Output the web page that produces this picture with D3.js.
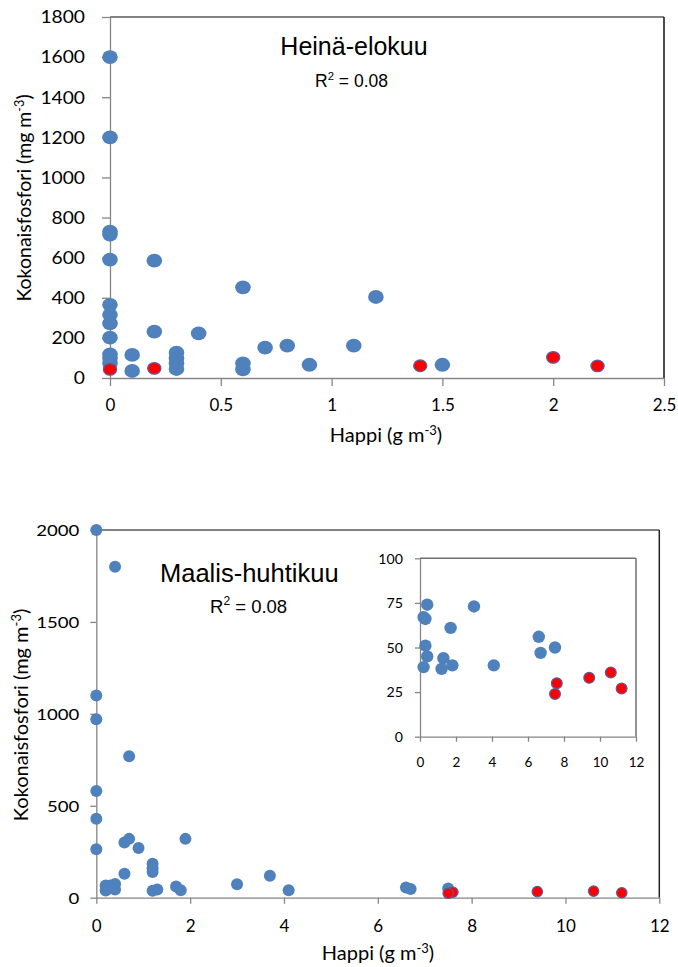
<!DOCTYPE html>
<html>
<head>
<meta charset="utf-8">
<script src="https://cdn.jsdelivr.net/npm/d3@7/dist/d3.min.js"></script>
<style>
  html, body { margin: 0; padding: 0; background: #fff; }
  svg { display: block; }
</style>
</head>
<body>
<svg id="chart" width="678" height="967"></svg>
<script>
// ---------- DATA ----------
// Heinä-elokuu (top chart)
const heinaHappi = [0,0,0,0,0,0,0,0,0,0,0,0, 0.1,0.1, 0.2,0.2, 0.3,0.3,0.3,0.3, 0.4, 0.6,0.6,0.6, 0.7,0.8,0.9,1.1,1.2,1.5];
const heinaP     = [1600,1200,730,715,590,365,315,272,201,118,98,73, 115,35, 585,231, 126,98,73,45, 223, 452,73,43, 151,161,66,161,404,66];
const heinaRedHappi = [0, 0.2, 1.4, 2.0, 2.2];
const heinaRedP     = [43, 48, 61, 103, 60];
const heinaYTicks = [0,200,400,600,800,1000,1200,1400,1600,1800];
const heinaXTicks = [0,0.5,1,1.5,2,2.5];

// Maalis-huhtikuu (bottom chart): high values only in main chart
const maalisHighHappi = [0,0.4,0,0,0.7,0,0,0,0.6,0.7,0.9,1.9,0.6,1.2,1.2,1.2,3.7];
const maalisHighP     = [2000,1800,1100,970,770,580,430,263,300,320,270,320,130,185,160,140,120];
// low values (shown in main chart and in inset)
const maalisLowHappi = [0.4,0.2,0.3,3.0,1.7,0.3,0.4,0.2,1.3,1.2,1.8,4.1,6.6,6.7,7.5];
const maalisLowP     = [74,67,66,73,61,51,45,39,44,38,40,40,56,47,50];
const maalisRedHappi = [7.6,7.5,9.4,10.6,11.2];
const maalisRedP     = [30,24,33,36,27];
const maalisYTicks = [0,500,1000,1500,2000];
const maalisXTicks = [0,2,4,6,8,10,12];
const insetYTicks = [0,25,50,75,100];
const insetXTicks = [0,2,4,6,8,10,12];

const titleTop = "Heinä-elokuu";
const titleBottom = "Maalis-huhtikuu";
const r2Text = " = 0.08";
const yTitle = "Kokonaisfosfori (mg m";
const xTitle = "Happi (g m";

// ---------- STYLE ----------
const BLUE = "#4f81bd";
const RED = "#ff0000";
const RED_STROKE = "#5a5c9c";
const AXIS = "#868686";
const TICKFONT = "Lato, 'Open Sans', sans-serif";
const ARIAL = "'Liberation Sans', Arial, sans-serif";

const svg = d3.select("#chart");

function zip(a, b) { return a.map((v, i) => [v, b[i]]); }

function styleAxis(g) {
  g.selectAll("path.domain").attr("stroke", AXIS).attr("stroke-width", 1.3);
  g.selectAll(".tick line").attr("stroke", AXIS).attr("stroke-width", 1.3);
  g.selectAll("text").attr("fill", "#000").attr("font-family", TICKFONT);
}

function fmt(v) { return String(v); }

function drawPanel(o) {
  const x = d3.scaleLinear().domain(o.xDomain).range([o.left, o.right]);
  const y = d3.scaleLinear().domain(o.yDomain).range([o.bottom, o.top]);
  const g = svg.append("g");

  // plot border (top and right)
  g.append("line").attr("x1", o.left).attr("x2", o.right).attr("y1", o.top).attr("y2", o.top)
    .attr("stroke", o.topBorder).attr("stroke-width", o.borderW);
  g.append("line").attr("x1", o.right).attr("x2", o.right).attr("y1", o.top).attr("y2", o.bottom)
    .attr("stroke", o.rightBorder).attr("stroke-width", o.borderW);

  // y axis
  const ya = g.append("g").attr("transform", `translate(${o.left},0)`)
    .call(d3.axisLeft(y).tickValues(o.yTicks).tickSize(o.tick).tickSizeOuter(0).tickFormat(fmt));
  styleAxis(ya);
  ya.selectAll("text")
    .attr("font-size", o.yFont)
    .attr("x", -o.yLabelGap / o.yScaleX)
    .attr("dy", "0.36em")
    .attr("transform", `scale(${o.yScaleX},1)`)
    .attr("text-anchor", "end");

  // x axis
  const xa = g.append("g").attr("transform", `translate(0,${o.bottom})`)
    .call(d3.axisBottom(x).tickValues(o.xTicks).tickSize(o.tick).tickSizeOuter(0).tickFormat(fmt));
  styleAxis(xa);
  xa.selectAll("text")
    .attr("font-size", o.xFont)
    .attr("y", o.xLabelBase)
    .attr("dy", 0)
    .attr("x", 0);

  // points
  const blue = g.append("g");
  o.blueSets.forEach(set => {
    blue.selectAll(null).data(set).enter().append("ellipse")
      .attr("cx", d => x(d[0])).attr("cy", d => y(d[1]))
      .attr("rx", o.rx).attr("ry", o.ry)
      .attr("fill", BLUE);
  });
  g.append("g").selectAll("ellipse").data(o.redSet).enter().append("ellipse")
    .attr("cx", d => x(d[0])).attr("cy", d => y(d[1]))
    .attr("rx", o.rrx).attr("ry", o.rry)
    .attr("fill", RED).attr("stroke", RED_STROKE).attr("stroke-width", 1.2);
  return g;
}

// ---------- TOP CHART ----------
drawPanel({
  xDomain: [0, 2.5], yDomain: [0, 1800],
  left: 110, right: 664, top: 17, bottom: 378,
  yTicks: heinaYTicks, xTicks: heinaXTicks,
  tick: 8, yFont: 16.3, yScaleX: 1.18, yLabelGap: 25,
  xFont: 17, xLabelBase: 33,
  topBorder: "#595959", rightBorder: "#111", borderW: 1.5,
  blueSets: [zip(heinaHappi, heinaP)],
  redSet: zip(heinaRedHappi, heinaRedP),
  rx: 7.8, ry: 6.9, rrx: 6.6, rry: 5.8
});

// ---------- BOTTOM CHART ----------
drawPanel({
  xDomain: [0, 12], yDomain: [0, 2000],
  left: 96.3, right: 659.3, top: 530, bottom: 897.7,
  yTicks: maalisYTicks, xTicks: maalisXTicks,
  tick: 6, yFont: 15.5, yScaleX: 1.2, yLabelGap: 17,
  xFont: 17, xLabelBase: 34.5,
  topBorder: "#595959", rightBorder: "#222", borderW: 1.5,
  blueSets: [zip(maalisHighHappi, maalisHighP), zip(maalisLowHappi, maalisLowP)],
  redSet: zip(maalisRedHappi, maalisRedP),
  rx: 6, ry: 6, rrx: 5.2, rry: 5.2
});

// ---------- INSET ----------
drawPanel({
  xDomain: [0, 12], yDomain: [0, 100],
  left: 420, right: 636, top: 558.3, bottom: 736.7,
  yTicks: insetYTicks, xTicks: insetXTicks,
  tick: 5, yFont: 13.5, yScaleX: 1.05, yLabelGap: 17,
  xFont: 13.5, xLabelBase: 30,
  topBorder: "#707070", rightBorder: "#707070", borderW: 1.5,
  blueSets: [zip(maalisLowHappi, maalisLowP)],
  redSet: zip(maalisRedHappi, maalisRedP),
  rx: 6.2, ry: 6.2, rrx: 5.4, rry: 5.4
});

// ---------- TEXTS ----------
function r2(xs, ys, size) {
  const t = svg.append("text").attr("x", xs).attr("y", ys)
    .attr("font-family", ARIAL).attr("font-size", size).attr("fill", "#000");
  t.append("tspan").text("R");
  t.append("tspan").attr("dy", -size * 0.42).attr("font-size", size * 0.65).text("2");
  t.append("tspan").attr("dy", size * 0.42).text(r2Text);
}
function axisTitleX(cx, base) {
  const t = svg.append("text").attr("x", cx).attr("y", base).attr("text-anchor", "middle")
    .attr("font-family", TICKFONT).attr("font-size", 20).attr("fill", "#000");
  t.append("tspan").text(xTitle);
  t.append("tspan").attr("dy", -7).attr("font-size", 13).text("-3");
  t.append("tspan").attr("dy", 7).text(")");
}
function axisTitleY(bx, cy, size) {
  const t = svg.append("text").attr("transform", `translate(${bx},${cy}) rotate(-90)`)
    .attr("text-anchor", "middle")
    .attr("font-family", TICKFONT).attr("font-size", size).attr("fill", "#000");
  t.append("tspan").text(yTitle);
  t.append("tspan").attr("dy", -7).attr("font-size", size * 0.65).text("-3");
  t.append("tspan").attr("dy", 7).text(")");
}

svg.append("text").attr("x", 354).attr("y", 55).attr("text-anchor", "middle")
  .attr("font-family", ARIAL).attr("font-size", 25).attr("fill", "#000").text(titleTop);
r2(315, 87, 17.5);
axisTitleX(386, 442);
axisTitleY(31, 198, 19.5);

svg.append("text").attr("x", 160).attr("y", 582)
  .attr("font-family", ARIAL).attr("font-size", 25.5).attr("fill", "#000").text(titleBottom);
r2(210, 613, 18.5);
axisTitleX(378, 960);
axisTitleY(28, 715, 20);
</script>
</body>
</html>
